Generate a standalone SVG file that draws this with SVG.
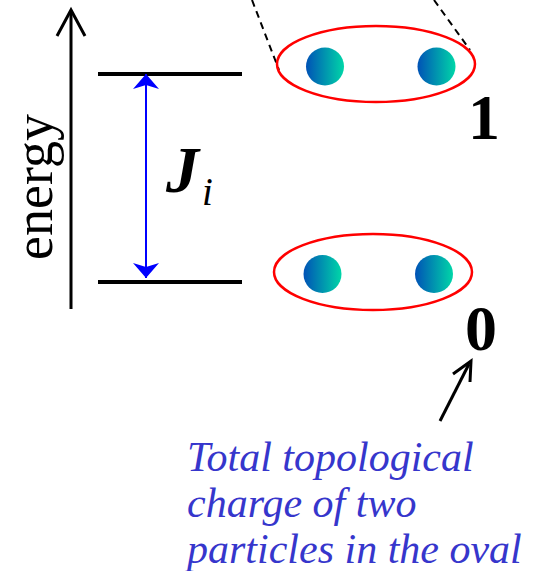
<svg xmlns="http://www.w3.org/2000/svg" width="541" height="571" viewBox="0 0 541 571">
<style>
.lvl{stroke:#000;stroke-width:4;fill:none}
.oval{fill:none;stroke:#ff0000;stroke-width:2.5}
.dash{stroke:#000;stroke-width:2;stroke-dasharray:7 5;fill:none}
.ptc{fill:url(#pg)}
.num{font-family:"Liberation Serif",serif;font-weight:bold;font-size:64px;fill:#000;text-anchor:middle}
.note{font-family:"Liberation Serif",serif;font-style:italic;font-size:42px;fill:#3636cc}
</style>
<defs>
<linearGradient id="pg" x1="0" y1="0" x2="1" y2="0">
<stop offset="0" stop-color="#0052b6"/>
<stop offset="1" stop-color="#00d6a8"/>
</linearGradient>
<marker id="bh" viewBox="0 0 15 26" refX="15" refY="13" markerWidth="15" markerHeight="26" markerUnits="userSpaceOnUse" orient="auto">
<path d="M0,0 L15,13 L0,26 L4,13 Z" fill="#0000ff"/>
</marker>
</defs>
<g id="axis">
<line x1="71" y1="11" x2="71" y2="309" stroke="#000" stroke-width="3"/>
<polyline points="57,36 71,10 85,36" fill="none" stroke="#000" stroke-width="3"/>
<text transform="translate(52,187) rotate(-90)" font-family="Liberation Serif,serif" font-size="54" text-anchor="middle" fill="#000">energy</text>
</g>
<g id="levels">
<line class="lvl" x1="98" y1="74" x2="242" y2="74"/>
<line class="lvl" x1="98" y1="282" x2="242" y2="282"/>
</g>
<g id="connectors">
<line x1="146" y1="178" x2="146" y2="74" stroke="#0000ff" stroke-width="2" marker-end="url(#bh)"/>
<line x1="146" y1="178" x2="146" y2="278" stroke="#0000ff" stroke-width="2" marker-end="url(#bh)"/>
<line class="dash" x1="252" y1="0" x2="279" y2="70"/>
<line class="dash" x1="434" y1="0" x2="470" y2="50"/>
<line x1="440" y1="421" x2="469" y2="364" stroke="#000" stroke-width="3"/>
<polyline points="453,374 471,361 470,382" fill="none" stroke="#000" stroke-width="3"/>
</g>
<g id="Ji">
<text x="166" y="192" font-family="Liberation Serif,serif" font-weight="bold" font-style="italic" font-size="66" fill="#000">J</text>
<text x="202" y="205" font-family="Liberation Serif,serif" font-style="italic" font-size="39" fill="#000">i</text>
</g>
<g id="state1">
<ellipse class="oval" cx="376" cy="64" rx="99" ry="38"/>
<circle class="ptc" cx="325" cy="66.5" r="19"/>
<circle class="ptc" cx="436.5" cy="66.5" r="19"/>
<text class="num" x="484" y="139">1</text>
</g>
<g id="state0">
<ellipse class="oval" cx="373" cy="272" rx="99" ry="38"/>
<circle class="ptc" cx="322.5" cy="274" r="19"/>
<circle class="ptc" cx="434" cy="274" r="19"/>
<text class="num" x="481" y="350">0</text>
</g>
<g id="note">
<text class="note" x="187" y="471">Total topological</text>
<text class="note" x="187" y="517">charge of two</text>
<text class="note" x="187" y="563">particles in the oval</text>
</g>
</svg>
